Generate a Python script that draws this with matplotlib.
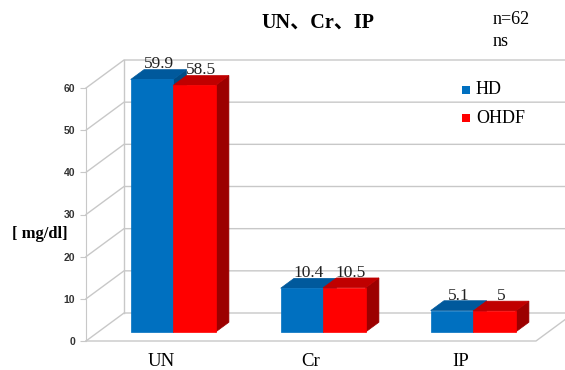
import matplotlib
matplotlib.use("Agg")
import matplotlib.pyplot as plt
from matplotlib.patches import Polygon

# 透析方式別の平均値 (mg/dl)
categories = ["UN", "Cr", "IP"]
series_names = ["HD", "OHDF"]
hd_values = [59.9, 10.4, 5.1]
ohdf_values = [58.5, 10.5, 5]
value_labels = [["59.9", "10.4", "5.1"], ["58.5", "10.5", "5"]]
y_ticks = [0, 10, 20, 30, 40, 50, 60]

front_cols = ["#0070C0", "#FF0000"]
top_cols = ["#00599C", "#C00000"]
side_cols = ["#004C85", "#9C0000"]

serif = ["Liberation Serif", "Noto Sans CJK JP"]

W, H = 565, 370
fig = plt.figure(figsize=(W / 100, H / 100), dpi=100)
# 手前の面: x=0..3 -> 86..536px, 値0..60 -> y 341..88px
ax = fig.add_axes([86 / W, (H - 341) / H, 450 / W, 253 / H])
ax.set_xlim(0, 3)
ax.set_ylim(0, 60)

# 奥行き方向のずれ (斜投影)
DX = 38 / 150
DY = 28 / (253 / 60)

def proj(x, v, d):
    return (x + d * DX, v + d * DY)

grid_c = "#C8C8C8"
for v in y_ticks:
    ax.plot([0, DX, 3 + DX + 0.2], [v, v + DY, v + DY], color=grid_c, lw=1,
            clip_on=False, zorder=1)
ax.plot([DX, DX], [DY, 60 + DY], color=grid_c, lw=1, clip_on=False, zorder=1)
# 床
ax.plot([0, 3, 3 + DX], [0, 0, DY], color=grid_c, lw=1, clip_on=False, zorder=1)

bar_w = 0.283
start = 0.217
d0, d1 = 0.32, 0.67
all_vals = [hd_values, ohdf_values]

for i in range(len(categories)):
    for j, vals in enumerate(all_vals):
        v = vals[i]
        x0 = i + start + j * bar_w
        x1 = x0 + bar_w
        side = [proj(x1, 0, d0), proj(x1, v, d0), proj(x1, v, d1), proj(x1, 0, d1)]
        top = [proj(x0, v, d0), proj(x1, v, d0), proj(x1, v, d1), proj(x0, v, d1)]
        front = [proj(x0, 0, d0), proj(x1, 0, d0), proj(x1, v, d0), proj(x0, v, d0)]
        for pts, c in [(side, side_cols[j]), (top, top_cols[j]), (front, front_cols[j])]:
            ax.add_patch(Polygon(pts, closed=True, facecolor=c, edgecolor=c,
                                 lw=0.5, clip_on=False, zorder=3 + j))
        lx, ly = proj(x0 + bar_w / 2, v, (d0 + d1) / 2)
        ax.text(lx, ly + 0.5, value_labels[j][i], ha="center", va="bottom",
                fontsize=12.5, family=serif, color="#222222", zorder=6)

# 軸
for s in ["top", "right", "bottom"]:
    ax.spines[s].set_visible(False)
ax.spines["left"].set_color(grid_c)
ax.set_yticks(y_ticks)
ax.set_yticklabels([str(t) for t in y_ticks], fontsize=7.5, fontweight="bold",
                   family=["Liberation Sans"], color="#333333")
ax.tick_params(axis="y", length=4, color=grid_c, pad=4)
ax.set_xticks([0.5, 1.5, 2.5])
ax.set_xticklabels(categories, fontsize=13.5, family=serif)
ax.tick_params(axis="x", length=0, pad=9)
ax.set_facecolor("none")

fig.text(12 / W, 1 - 234 / H, "[ mg/dl]", fontsize=12, fontweight="bold",
         family=serif, va="center", ha="left")
fig.text(318 / W, 1 - 23 / H, "UN、Cr、IP", fontsize=14.5, fontweight="bold",
         family=serif, ha="center", va="center")
fig.text(493 / W, 1 - 19 / H, "n=62", fontsize=13, family=serif, va="center")
fig.text(493 / W, 1 - 42 / H, "ns", fontsize=13, family=serif, va="center")

# 凡例
for k, name in enumerate(series_names):
    yc = 1 - (90 + 28 * k) / H
    fig.patches.append(plt.Rectangle((462 / W, yc - 4 / H), 8 / W, 8 / H,
                                     transform=fig.transFigure,
                                     facecolor=front_cols[k], edgecolor="none"))
    fig.text(476 / W, yc, name, fontsize=13, family=serif, va="center")

fig.savefig("out.png", dpi=100)
